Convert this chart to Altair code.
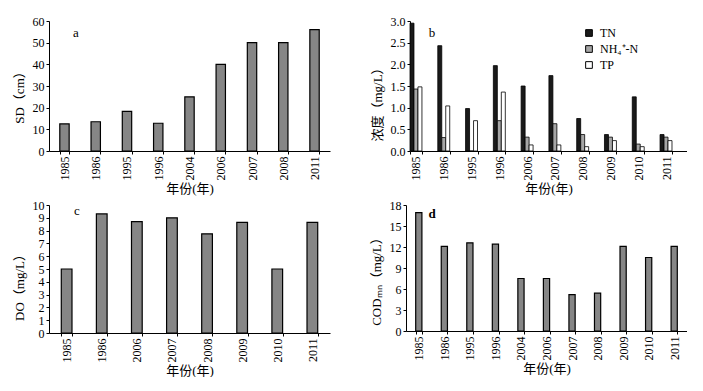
import altair as alt
import pandas as pd

FONT = "Liberation Serif, Noto Sans CJK SC"

# ---- data ----
years_a = ["1985", "1986", "1995", "1996", "2004", "2006", "2007", "2008", "2011"]
sd_values = [12.5, 13.5, 18.3, 12.8, 25.0, 40.0, 50.0, 50.0, 56.0]

years_b = ["1985", "1986", "1995", "1996", "2006", "2007", "2008", "2009", "2010", "2011"]
series_b = ["TN", "NH₄⁺-N", "TP"]
tn_values = [2.95, 2.43, 0.98, 1.97, 1.50, 1.74, 0.75, 0.38, 1.25, 0.38]
nh4_values = [1.43, 0.31, 0.0, 0.70, 0.32, 0.63, 0.38, 0.32, 0.16, 0.32]
tp_values = [1.48, 1.04, 0.70, 1.36, 0.14, 0.14, 0.10, 0.24, 0.10, 0.24]

years_c = ["1985", "1986", "2006", "2007", "2008", "2009", "2010", "2011"]
do_values = [5.0, 9.3, 8.7, 9.0, 7.75, 8.65, 5.0, 8.65]

years_d = ["1985", "1986", "1995", "1996", "2004", "2006", "2007", "2008", "2009", "2010", "2011"]
cod_values = [16.9, 12.1, 12.6, 12.4, 7.5, 7.5, 5.2, 5.4, 12.1, 10.5, 12.1]

BAR_FILL = "#868686"


def x_axis():
    return alt.Axis(title="年份(年)", labelAngle=-90, labelFontSize=12, titleFontSize=13,
                    titleFontWeight="normal", tickBand="extent", tickSize=3,
                    labelPadding=2, titlePadding=2, domainColor="black", tickColor="black",
                    labelColor="black", titleColor="black")


def y_axis(title, values, fmt, title_y):
    return alt.Axis(title=title, values=values, format=fmt, grid=False, tickSize=3,
                    labelFontSize=12, titleFontSize=13, titleFontWeight="normal",
                    labelPadding=2, titlePadding=6, domainColor="black", tickColor="black",
                    labelColor="black", titleColor="black", titleY=title_y)


def letter(txt, dx, dy, bold=False):
    return alt.Chart(pd.DataFrame({"t": [txt]})).mark_text(
        fontSize=13, font=FONT, fontWeight="bold" if bold else "normal",
        align="center", baseline="middle", color="black"
    ).encode(x=alt.value(dx), y=alt.value(dy), text="t:N")


def simple_panel(years, values, ytitle, ydom, yvals, fmt, w, h, pin, pout, align, lab, ty):
    df = pd.DataFrame({"year": years, "v": values})
    bars = alt.Chart(df).mark_bar(fill=BAR_FILL, stroke="black", strokeWidth=1.2).encode(
        x=alt.X("year:N", sort=years, axis=x_axis(),
                scale=alt.Scale(paddingInner=pin, paddingOuter=pout, align=align)),
        y=alt.Y("v:Q", scale=alt.Scale(domain=ydom, nice=False),
                axis=y_axis(ytitle, yvals, fmt, ty)),
    )
    return alt.layer(bars, lab).properties(width=w, height=h)


a = simple_panel(years_a, sd_values, "SD（cm）", [0, 60], [0, 10, 20, 30, 40, 50, 60], "d",
                 281, 130, 0.70, 0.345, 0.5, letter("a", 27, 12), 73)

c = simple_panel(years_c, do_values, "DO（mg/L）", [0, 10], list(range(0, 11)), "d",
                 281, 128, 0.695, 0.35, 0.5, letter("c", 28, 6), 79)

d = simple_panel(years_d, cod_values, "CODₘₙ（mg/L）", [0, 18], [0, 3, 6, 9, 12, 15, 18], "d",
                 281, 126, 0.757, 0.38, 0.5, letter("d", 26, 9, bold=True), 73)

# panel b (grouped)
rows = []
for i, y in enumerate(years_b):
    rows.append({"year": y, "s": series_b[0], "v": tn_values[i]})
    rows.append({"year": y, "s": series_b[1], "v": nh4_values[i]})
    rows.append({"year": y, "s": series_b[2], "v": tp_values[i]})
df_b = pd.DataFrame(rows)

bars_b = alt.Chart(df_b).mark_bar(stroke="black", strokeWidth=0.8).encode(
    x=alt.X("year:N", sort=years_b, axis=x_axis(),
            scale=alt.Scale(paddingInner=0.57, paddingOuter=0.27, align=0)),
    xOffset=alt.XOffset("s:N", sort=series_b, scale=alt.Scale(paddingInner=0, paddingOuter=0)),
    y=alt.Y("v:Q", scale=alt.Scale(domain=[0, 3], nice=False),
            axis=y_axis("浓度（mg/L）", [0, 0.5, 1.0, 1.5, 2.0, 2.5, 3.0], ".1f", 80)),
    color=alt.Color("s:N", sort=series_b,
                    scale=alt.Scale(domain=series_b, range=["#1a1a1a", "#a6a6a6", "#ffffff"]),
                    legend=alt.Legend(title=None, orient="none", legendX=534, legendY=6,
                                      symbolType="square", symbolSize=45, symbolStrokeColor="black",
                                      symbolStrokeWidth=1, labelFontSize=12, rowPadding=4,
                                      padding=0, labelOffset=5, labelColor="black",
                                      labelFont=FONT)),
)
b = alt.layer(bars_b, letter("b", 22, 12)).properties(width=277, height=130)

chart = alt.vconcat(
    alt.hconcat(a, b, spacing=41),
    alt.hconcat(c, d, spacing=40),
    spacing=4,
).properties(
    padding={"left": 5, "top": 7, "right": 0, "bottom": 0},
    background="white",
).configure(font=FONT).configure_axis(
    labelFont=FONT, titleFont=FONT
).configure_view(strokeOpacity=0)

chart.save("out.html", embed_options={"renderer": "svg", "actions": False})
